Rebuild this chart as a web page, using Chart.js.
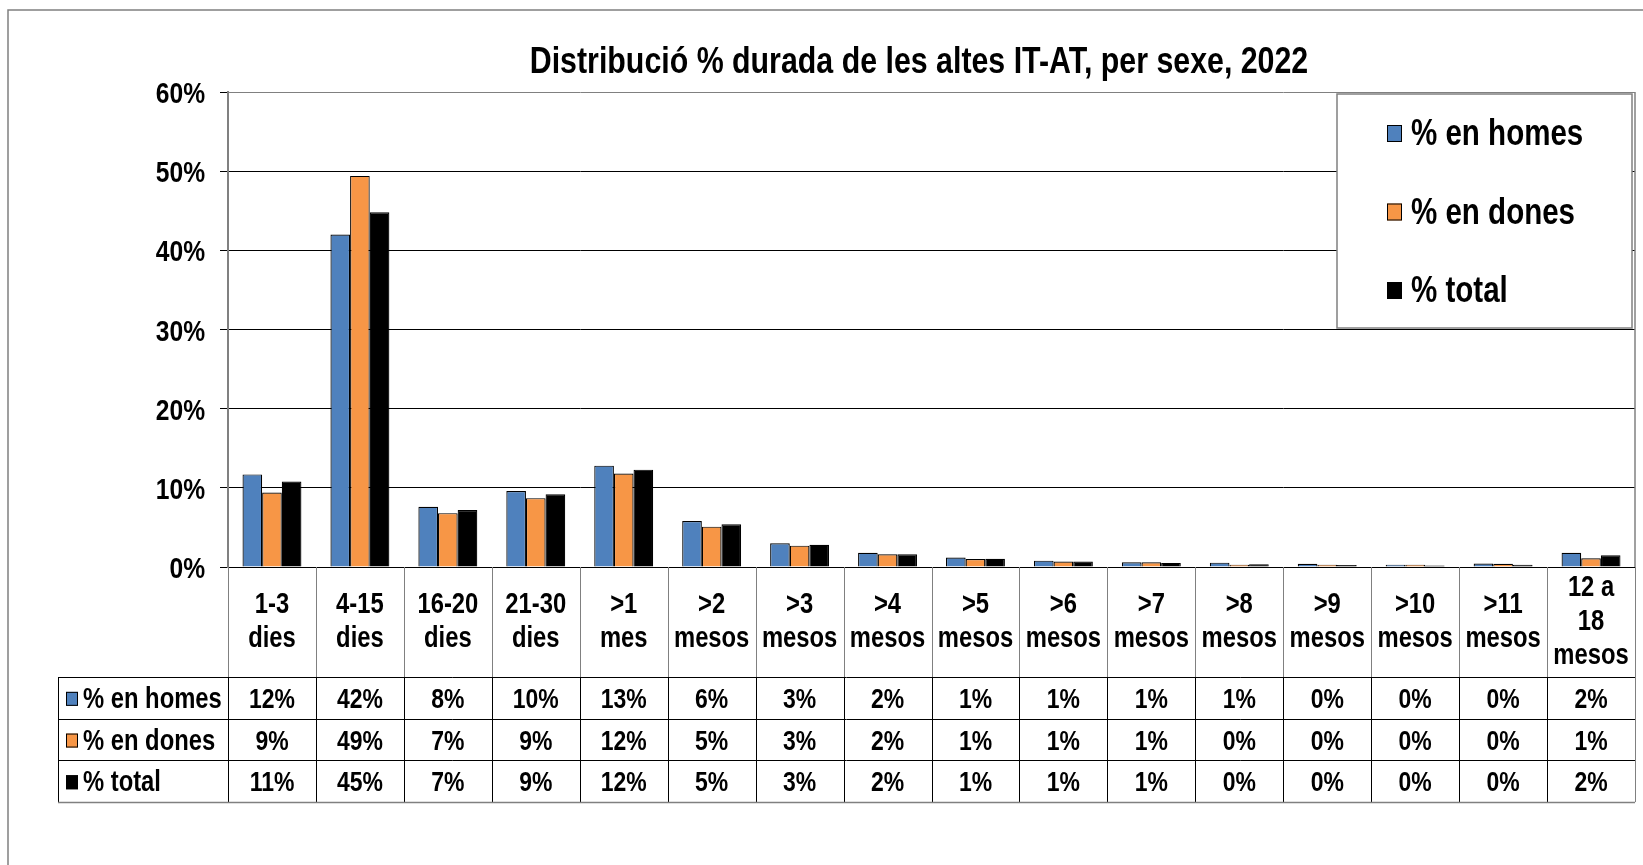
<!DOCTYPE html>
<html>
<head>
<meta charset="utf-8">
<script src="https://cdn.jsdelivr.net/npm/chart.js@4.4.1/dist/chart.umd.min.js"></script>
<style>
  html, body { margin: 0; padding: 0; background: #fff; overflow: hidden; }
</style>
</head>
<body>
<canvas id="chart" width="1643" height="865"></canvas>
<script>
// Distribució % durada de les altes IT-AT, per sexe, 2022 — bars + data table

// no narrow font installed: draw Liberation Sans squeezed to Arial Narrow width
const FONT = '"Liberation Sans", Arial, sans-serif';
const SQUEEZE = 0.82;

const chartTitle = 'Distribució % durada de les altes IT-AT, per sexe, 2022';

const categories = [
  ['1-3', 'dies'], ['4-15', 'dies'], ['16-20', 'dies'], ['21-30', 'dies'],
  ['>1', 'mes'], ['>2', 'mesos'], ['>3', 'mesos'], ['>4', 'mesos'],
  ['>5', 'mesos'], ['>6', 'mesos'], ['>7', 'mesos'], ['>8', 'mesos'],
  ['>9', 'mesos'], ['>10', 'mesos'], ['>11', 'mesos'], ['12 a', '18', 'mesos']
];

const seriesNames = ['% en homes', '% en dones', '% total'];

// values in %
const homes = [11.7, 42.0, 7.6, 9.6, 12.8, 5.8, 3.0, 1.8, 1.2, 0.8, 0.6, 0.55, 0.4, 0.3, 0.45, 1.8];
const dones = [9.4, 49.4, 6.8, 8.7, 11.8, 5.1, 2.7, 1.6, 1.0, 0.7, 0.6, 0.3, 0.3, 0.3, 0.4, 1.1];
const total = [10.8, 44.8, 7.2, 9.2, 12.3, 5.4, 2.8, 1.6, 1.05, 0.7, 0.52, 0.35, 0.25, 0.2, 0.3, 1.5];

const yMax = 60;
const yStep = 10;

const colors = ['#4F81BD', '#F79646', '#000000'];

function narrowText(ctx, text, x, y, align) {
  ctx.save();
  ctx.translate(x, y);
  ctx.scale(SQUEEZE, 1);
  ctx.textAlign = align;
  ctx.textBaseline = 'alphabetic';
  ctx.fillText(text, 0, 0);
  ctx.restore();
}

// white page, outer frame of the chart object
const backdrop = {
  id: 'backdrop',
  beforeDraw(chart) {
    const ctx = chart.ctx;
    ctx.save();
    ctx.fillStyle = '#fff';
    ctx.fillRect(0, 0, chart.width, chart.height);
    ctx.strokeStyle = '#808080';
    ctx.lineWidth = 1.5;
    ctx.beginPath();
    ctx.moveTo(8, chart.height);
    ctx.lineTo(8, 10);
    ctx.lineTo(chart.width, 10);
    ctx.stroke();
    ctx.restore();
  }
};

// title, y labels, legend box, plot border and the data table under the axis
const extras = {
  id: 'extras',
  afterDraw(chart) {
    const ctx = chart.ctx;
    const area = chart.chartArea;
    const x = chart.scales.x;
    const y = chart.scales.y;
    const colW = x.width / categories.length;
    ctx.save();

    // plot area right edge
    ctx.strokeStyle = '#808080';
    ctx.lineWidth = 1.5;
    ctx.beginPath();
    ctx.moveTo(area.right, area.top);
    ctx.lineTo(area.right, area.bottom);
    ctx.stroke();

    // title
    ctx.fillStyle = '#000';
    ctx.font = 'bold 37px ' + FONT;
    narrowText(ctx, chartTitle, 919, 73, 'center');

    // y tick labels
    ctx.font = 'bold 30px ' + FONT;
    y.ticks.forEach(t => {
      narrowText(ctx, t.value + '%', 205, y.getPixelForValue(t.value) + 11, 'right');
    });

    // legend box
    const lb = { left: 1337, top: 94, w: 295, h: 234 };
    ctx.fillStyle = '#fff';
    ctx.fillRect(lb.left, lb.top, lb.w, lb.h);
    ctx.strokeStyle = '#808080';
    ctx.lineWidth = 1.5;
    ctx.strokeRect(lb.left, lb.top, lb.w, lb.h);
    ctx.font = 'bold 36px ' + FONT;
    seriesNames.forEach((name, i) => {
      const base = 145 + i * 78.5;
      ctx.fillStyle = colors[i];
      ctx.fillRect(1387, base - 20, 15, 17);
      ctx.strokeStyle = '#000';
      ctx.lineWidth = 1;
      ctx.strokeRect(1387.5, base - 19.5, 14, 16);
      ctx.fillStyle = '#000';
      narrowText(ctx, name, 1411, base, 'left');
    });

    // data table
    const top = area.bottom;
    const headH = 110;
    const rowH = 41.7;
    const keyLeft = 58;
    const rows = [homes, dones, total];
    const tableBottom = top + headH + rows.length * rowH;

    // header cells: category names
    ctx.fillStyle = '#000';
    ctx.font = 'bold 29px ' + FONT;
    categories.forEach((lines, i) => {
      const cx = x.getPixelForValue(i);
      const mid = top + headH / 2 + 8;
      lines.forEach((t, k) => {
        narrowText(ctx, t, cx, mid + (k - (lines.length - 1) / 2) * 34, 'center');
      });
    });

    // values
    ctx.font = 'bold 28px ' + FONT;
    rows.forEach((vals, r) => {
      const base = top + headH + r * rowH + rowH / 2 + 10;
      vals.forEach((v, i) => {
        narrowText(ctx, Math.round(v) + '%', x.getPixelForValue(i), base, 'center');
      });
    });

    // row keys
    ctx.font = 'bold 29px ' + FONT;
    seriesNames.forEach((name, r) => {
      const cy = top + headH + r * rowH + rowH / 2 + 1;
      ctx.fillStyle = colors[r];
      ctx.fillRect(66, cy - 7, 12, 14);
      ctx.strokeStyle = '#000';
      ctx.lineWidth = 1;
      ctx.strokeRect(66.5, cy - 6.5, 11, 13);
      ctx.fillStyle = '#000';
      narrowText(ctx, name, 83, cy + 9, 'left');
    });

    // grid of the table
    ctx.lineWidth = 1;
    ctx.strokeStyle = '#808080';
    for (let i = 0; i <= categories.length; i++) {
      const lx = Math.round(area.left + i * colW) + 0.5;
      ctx.beginPath();
      ctx.moveTo(lx, top);
      ctx.lineTo(lx, top + headH);
      ctx.stroke();
    }
    const vLines = [keyLeft];
    for (let i = 0; i <= categories.length; i++) vLines.push(area.left + i * colW);
    vLines.forEach((vx, i) => {
      const lx = Math.round(vx) + 0.5;
      ctx.strokeStyle = i === vLines.length - 1 ? '#808080' : '#000';
      ctx.beginPath();
      ctx.moveTo(lx, top + headH);
      ctx.lineTo(lx, tableBottom);
      ctx.stroke();
    });
    for (let r = 0; r <= rows.length; r++) {
      const ly = Math.round(top + headH + r * rowH) + 0.5;
      ctx.strokeStyle = r === rows.length ? '#808080' : '#000';
      ctx.lineWidth = r === rows.length ? 1.5 : 1;
      ctx.beginPath();
      ctx.moveTo(keyLeft, ly);
      ctx.lineTo(area.right, ly);
      ctx.stroke();
    }

    ctx.restore();
  }
};

const ctx = document.getElementById('chart').getContext('2d');

new Chart(ctx, {
  type: 'bar',
  data: {
    labels: categories,
    datasets: [homes, dones, total].map((d, i) => ({
      label: seriesNames[i],
      data: d,
      backgroundColor: colors[i],
      borderColor: '#000',
      borderWidth: 1.2,
      categoryPercentage: 0.67,
      barPercentage: 1.0
    }))
  },
  options: {
    responsive: false,
    animation: false,
    layout: { padding: { top: 92, left: 0, right: 8, bottom: 0 } },
    plugins: {
      legend: { display: false },
      title: { display: false },
      tooltip: { enabled: false }
    },
    scales: {
      x: {
        grid: { display: false },
        border: { display: false },
        ticks: { display: false },
        afterFit(scale) { scale.height = 298; }
      },
      y: {
        min: 0,
        max: yMax,
        afterFit(scale) { scale.width = 228; },
        grid: {
          color: c => (c.tick && c.tick.value === yMax ? '#808080' : '#000'),
          lineWidth: 1,
          tickColor: '#000',
          tickLength: 8
        },
        border: { color: '#808080', width: 2 },
        ticks: { display: false, stepSize: yStep }
      }
    }
  },
  plugins: [backdrop, extras]
});
</script>
</body>
</html>
